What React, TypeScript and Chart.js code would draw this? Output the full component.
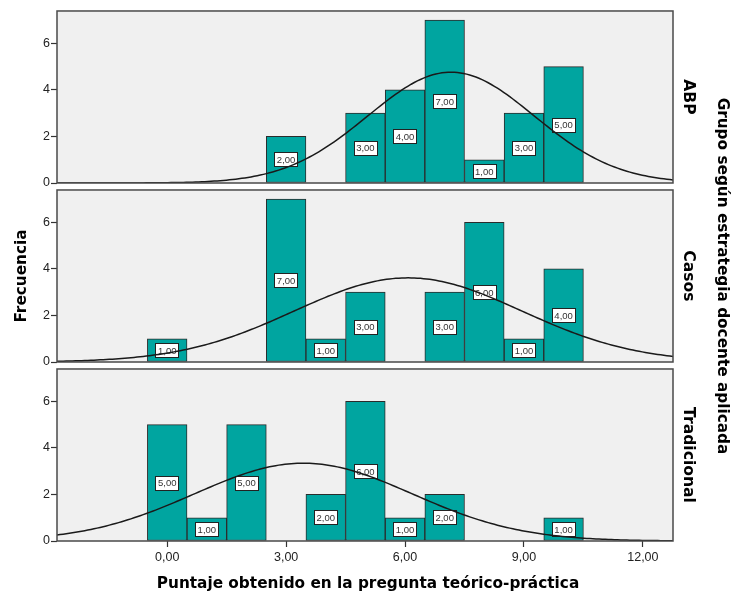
import React, { useEffect, useRef } from 'react';
import { Chart, registerables } from 'chart.js';

Chart.register(...registerables);

// ---- data ----
const scores = [0, 1, 2, 3, 4, 5, 6, 7, 8, 9, 10];
const abpFreq = [0, 0, 0, 2, 0, 3, 4, 7, 1, 3, 5];
const casosFreq = [1, 0, 0, 7, 1, 3, 0, 3, 6, 1, 4];
const tradFreq = [5, 1, 5, 0, 2, 6, 1, 2, 0, 0, 1];
const groupNames = ['ABP', 'Casos', 'Tradicional'];
const xTickValues = [0, 3, 6, 9, 12];
const yTickValues = [0, 2, 4, 6];

const xTitle = 'Puntaje obtenido en la pregunta teórico-práctica';
const yTitle = 'Frecuencia';
const groupTitle = 'Grupo según estrategia docente aplicada';

// ---- scale ranges ----
const X_MIN = -2.78;
const X_MAX = 12.76;
const FRAME_TOP = 7.39;
const Y_MAX = 7.69;

const BAR_COLOR = '#00A5A0';
const FRAME_BG = '#F0F0F0';
const FRAME_LINE = '#4a4a4a';
const TITLE_FONT = 'bold 15.3px "DejaVu Sans", Verdana, sans-serif';

const fmt = (v: number) => v.toFixed(2).replace('.', ',');

function normalCurve(freq: number[]) {
  let n = 0, sum = 0;
  freq.forEach((f, i) => { n += f; sum += f * scores[i]; });
  const mean = sum / n;
  let ss = 0;
  freq.forEach((f, i) => { ss += f * (scores[i] - mean) ** 2; });
  const sd = Math.sqrt(ss / (n - 1));
  const pts: { x: number; y: number }[] = [];
  const steps = 200;
  for (let k = 0; k <= steps; k++) {
    const x = X_MIN + (X_MAX - X_MIN) * (k / steps);
    const y = (n / (sd * Math.sqrt(2 * Math.PI))) * Math.exp(-((x - mean) ** 2) / (2 * sd * sd));
    pts.push({ x, y });
  }
  return pts;
}

const allFreqs = [abpFreq, casosFreq, tradFreq];
const yIds = ['yA', 'yB', 'yC'];

export default function App() {
  const ref = useRef<HTMLCanvasElement>(null);

  useEffect(() => {
    if (!ref.current) return;

    const datasets: any[] = [];
    allFreqs.forEach((freq, gi) => {
      datasets.push({
        type: 'bar',
        label: groupNames[gi],
        data: scores.map((s, i) => ({ x: s, y: freq[i] })).filter((p) => p.y > 0),
        yAxisID: yIds[gi],
        xAxisID: 'x',
        backgroundColor: BAR_COLOR,
        borderColor: '#2b2b2b',
        borderWidth: 1,
        borderSkipped: false,
        barPercentage: 1,
        categoryPercentage: 1,
        grouped: false,
        order: 2,
      });
    });
    allFreqs.forEach((freq, gi) => {
      datasets.push({
        type: 'line',
        label: 'Normal ' + groupNames[gi],
        data: normalCurve(freq),
        yAxisID: yIds[gi],
        xAxisID: 'x',
        borderColor: '#1a1a1a',
        borderWidth: 1.5,
        pointRadius: 0,
        tension: 0,
        fill: false,
        order: 0,
      });
    });

    const panelPlugin = {
      id: 'panels',
      beforeDatasetsDraw(chart: any) {
        const { ctx, chartArea } = chart;
        ctx.save();
        yIds.forEach((id) => {
          const ys = chart.scales[id];
          const top = ys.getPixelForValue(FRAME_TOP);
          const bottom = ys.getPixelForValue(0);
          ctx.fillStyle = FRAME_BG;
          ctx.fillRect(chartArea.left, top, chartArea.right - chartArea.left, bottom - top);
        });
        ctx.restore();
      },
      afterDatasetDraw(chart: any, args: any) {
        const meta = args.meta;
        if (meta.type !== 'bar') return;
        const { ctx } = chart;
        ctx.save();
        ctx.font = '9.5px "Liberation Sans", Arial, sans-serif';
        ctx.textAlign = 'center';
        ctx.textBaseline = 'middle';
        meta.data.forEach((el: any, i: number) => {
          const raw = chart.data.datasets[args.index].data[i];
          const text = fmt(raw.y);
          const cx = el.x;
          const cy = (el.y + el.base) / 2;
          const w = ctx.measureText(text).width + 5;
          const h = 14;
          ctx.fillStyle = '#ffffff';
          ctx.fillRect(Math.round(cx - w / 2) + 0.5, Math.round(cy - h / 2) + 0.5, Math.round(w), h);
          ctx.strokeStyle = '#222';
          ctx.lineWidth = 1;
          ctx.strokeRect(Math.round(cx - w / 2) + 0.5, Math.round(cy - h / 2) + 0.5, Math.round(w), h);
          ctx.fillStyle = '#333';
          ctx.fillText(text, cx, cy + 1);
        });
        ctx.restore();
      },
      afterDatasetsDraw(chart: any) {
        const { ctx, chartArea } = chart;
        ctx.save();
        ctx.strokeStyle = FRAME_LINE;
        ctx.lineWidth = 1.5;
        yIds.forEach((id, gi) => {
          const ys = chart.scales[id];
          const top = ys.getPixelForValue(FRAME_TOP);
          const bottom = ys.getPixelForValue(0);
          ctx.strokeRect(chartArea.left, top, chartArea.right - chartArea.left, bottom - top);
          ctx.save();
          ctx.translate(chartArea.right + 15, (top + bottom) / 2);
          ctx.rotate(Math.PI / 2);
          ctx.fillStyle = '#000';
          ctx.font = 'bold 15.6px "DejaVu Sans", Verdana, sans-serif';
          ctx.textAlign = 'center';
          ctx.textBaseline = 'middle';
          ctx.fillText(groupNames[gi], 0, 0);
          ctx.restore();
        });
        const tops = yIds.map((id) => chart.scales[id].getPixelForValue(FRAME_TOP));
        const bottoms = yIds.map((id) => chart.scales[id].getPixelForValue(0));
        const midY = (Math.min(...tops) + Math.max(...bottoms)) / 2;
        ctx.save();
        ctx.translate(chartArea.right + 49, midY);
        ctx.rotate(Math.PI / 2);
        ctx.fillStyle = '#000';
        ctx.font = TITLE_FONT;
        ctx.textAlign = 'center';
        ctx.textBaseline = 'middle';
        ctx.fillText(groupTitle, 0, 0);
        ctx.restore();
        ctx.save();
        ctx.translate(22, midY);
        ctx.rotate(-Math.PI / 2);
        ctx.fillStyle = '#000';
        ctx.font = TITLE_FONT;
        ctx.textAlign = 'center';
        ctx.textBaseline = 'middle';
        ctx.fillText(yTitle, 0, 0);
        ctx.restore();
        ctx.save();
        ctx.fillStyle = '#000';
        ctx.font = TITLE_FONT;
        ctx.textAlign = 'center';
        ctx.textBaseline = 'middle';
        ctx.fillText(xTitle, (chartArea.left + chartArea.right) / 2 + 3, 584);
        ctx.restore();
        ctx.restore();
      },
    };

    const yAxis = (weight: number) => ({
      type: 'linear',
      position: 'left',
      stack: 'panels',
      stackWeight: 1,
      weight,
      min: 0,
      max: Y_MAX,
      afterBuildTicks: (a: any) => {
        a.ticks = yTickValues.map((v) => ({ value: v }));
      },
      afterFit: (a: any) => {
        a.width = 57;
        a.paddingTop = 0;
        a.paddingBottom = 0;
      },
      grid: { drawOnChartArea: false, drawTicks: true, tickLength: 6, tickColor: '#333', tickWidth: 1.2 },
      border: { display: false },
      ticks: {
        color: '#222',
        padding: 1,
        font: { family: '"Liberation Sans", Arial, sans-serif', size: 12.5 },
      },
    });

    const chart = new Chart(ref.current, {
      type: 'bar',
      data: { datasets },
      plugins: [panelPlugin],
      options: {
        responsive: false,
        animation: false,
        layout: { padding: { left: 0, right: 58, top: 4, bottom: 0 } },
        plugins: { legend: { display: false }, tooltip: { enabled: false }, title: { display: false } },
        scales: {
          x: {
            type: 'linear',
            position: 'bottom',
            offset: false,
            min: X_MIN,
            max: X_MAX,
            afterBuildTicks: (a: any) => {
              a.ticks = xTickValues.map((v) => ({ value: v }));
            },
            afterFit: (a: any) => {
              a.height = 53;
              a.paddingLeft = 0;
              a.paddingRight = 0;
            },
            grid: { offset: false, drawOnChartArea: false, drawTicks: true, tickLength: 6, tickColor: '#333', tickWidth: 1.2 },
            border: { display: false },
            ticks: {
              color: '#222',
              padding: 3,
              maxRotation: 0,
              font: { family: '"Liberation Sans", Arial, sans-serif', size: 12.5 },
              callback: (v: any) => fmt(Number(v)),
            },
          },
          yA: yAxis(3),
          yB: yAxis(2),
          yC: yAxis(1),
        } as any,
      },
    } as any);

    return () => chart.destroy();
  }, []);

  return (
    <div style={{ position: 'absolute', left: 0, top: 0, width: 731, height: 594, background: '#fff' }}>
      <canvas ref={ref} width={731} height={594} style={{ display: 'block' }} />
    </div>
  );
}
